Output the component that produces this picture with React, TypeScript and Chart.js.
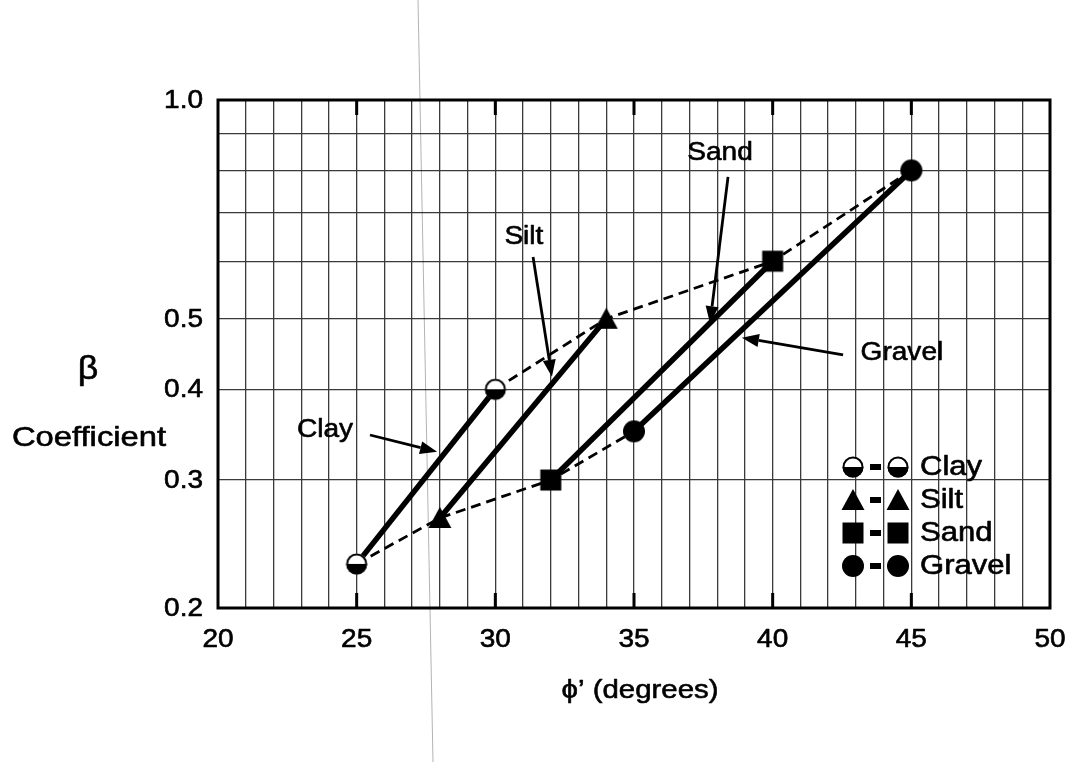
import React, { useEffect, useRef } from 'react';
import { Chart, registerables } from 'chart.js';

Chart.register(...registerables);

// ---- data ----
const soilNames = ['Clay', 'Silt', 'Sand', 'Gravel'];
const markerKinds = ['halfCircle', 'triangle', 'rect', 'circle'];
const phiLow = [25, 28, 32, 35];
const betaLow = [0.23, 0.266, 0.3, 0.35];
const phiHigh = [30, 34, 40, 45];
const betaHigh = [0.4, 0.5, 0.6, 0.8];

// ---- axes ----
const xMin = 20;
const xMax = 50;
const xStep = 1;
const xLabelValues = [20, 25, 30, 35, 40, 45, 50];
const majorTickValues = [25, 30, 35, 40, 45];
const yMin = 0.2;
const yMax = 1.0;
const yGridValues = [0.2, 0.3, 0.4, 0.5, 0.6, 0.7, 0.8, 0.9, 1.0];
const yLabelValues = [0.2, 0.3, 0.4, 0.5, 1.0];
const yLabelTexts = ['0.2', '0.3', '0.4', '0.5', '1.0'];
const xTitle = 'ϕ’ (degrees)';
const yTitleSymbol = 'β';
const yTitleText = 'Coefficient';

// ---- callouts (data coordinates) ----
const calloutText = ['Clay', 'Silt', 'Sand', 'Gravel'];
const calloutTextX = [23.86, 31.03, 38.1, 44.66];
const calloutTextY = [0.352, 0.648, 0.846, 0.449];
const calloutFromX = [25.48, 31.36, 38.39, 42.54];
const calloutFromY = [0.346, 0.608, 0.784, 0.446];
const calloutToX = [27.9, 32.04, 37.74, 38.89];
const calloutToY = [0.328, 0.416, 0.493, 0.471];

const FONT = '"Liberation Sans", Arial, Helvetica, sans-serif';

function stretchText(
  ctx: CanvasRenderingContext2D,
  text: string,
  x: number,
  y: number,
  size: number,
  align: CanvasTextAlign,
  sx: number
) {
  ctx.save();
  ctx.font = `${size}px ${FONT}`;
  ctx.fillStyle = '#000';
  ctx.strokeStyle = '#000';
  ctx.lineWidth = 0.6;
  ctx.lineJoin = 'round';
  ctx.textAlign = align;
  ctx.textBaseline = 'middle';
  ctx.translate(x, y);
  ctx.scale(sx, 1);
  ctx.fillText(text, 0, 0);
  ctx.strokeText(text, 0, 0);
  ctx.restore();
}

function drawMarker(ctx: CanvasRenderingContext2D, kind: string, x: number, y: number) {
  ctx.save();
  ctx.fillStyle = '#000';
  ctx.strokeStyle = '#000';
  if (kind === 'halfCircle') {
    const r = 10.5;
    ctx.beginPath();
    ctx.arc(x, y, r, 0, Math.PI * 2);
    ctx.fillStyle = '#fff';
    ctx.fill();
    ctx.beginPath();
    ctx.arc(x, y, r, 0, Math.PI);
    ctx.closePath();
    ctx.fillStyle = '#000';
    ctx.fill();
    ctx.beginPath();
    ctx.arc(x, y, r - 1, 0, Math.PI * 2);
    ctx.lineWidth = 2;
    ctx.stroke();
  } else if (kind === 'triangle') {
    const h = 20;
    const w = 23;
    ctx.beginPath();
    ctx.moveTo(x, y - h / 2 - 1);
    ctx.lineTo(x + w / 2, y + h / 2);
    ctx.lineTo(x - w / 2, y + h / 2);
    ctx.closePath();
    ctx.fill();
  } else if (kind === 'rect') {
    const s = 21;
    ctx.fillRect(x - s / 2, y - s / 2, s, s);
  } else {
    ctx.beginPath();
    ctx.arc(x, y, 11, 0, Math.PI * 2);
    ctx.fill();
  }
  ctx.restore();
}

function makeMarkerCanvas(kind: string): HTMLCanvasElement {
  const c = document.createElement('canvas');
  c.width = 26;
  c.height = 26;
  const cx = c.getContext('2d')!;
  drawMarker(cx, kind, 13, 13);
  return c;
}

function drawArrow(ctx: CanvasRenderingContext2D, x1: number, y1: number, x2: number, y2: number) {
  const ang = Math.atan2(y2 - y1, x2 - x1);
  const hl = 17;
  const hw = 6.5;
  const bx = x2 - hl * Math.cos(ang);
  const by = y2 - hl * Math.sin(ang);
  ctx.save();
  ctx.strokeStyle = '#000';
  ctx.fillStyle = '#000';
  ctx.lineWidth = 2.8;
  ctx.beginPath();
  ctx.moveTo(x1, y1);
  ctx.lineTo(bx, by);
  ctx.stroke();
  ctx.beginPath();
  ctx.moveTo(x2, y2);
  ctx.lineTo(bx + hw * Math.sin(ang), by - hw * Math.cos(ang));
  ctx.lineTo(bx - hw * Math.sin(ang), by + hw * Math.cos(ang));
  ctx.closePath();
  ctx.fill();
  ctx.restore();
}

const overlayPlugin = {
  id: 'overlay',
  afterDraw(chart: any) {
    const ctx: CanvasRenderingContext2D = chart.ctx;
    const { left, right, top, bottom } = chart.chartArea;
    const xs = chart.scales.x;
    const ys = chart.scales.y;
    ctx.save();

    // frame
    ctx.strokeStyle = '#000';
    ctx.lineWidth = 3;
    ctx.strokeRect(left, top, right - left, bottom - top);

    // inner major tick marks top & bottom
    majorTickValues.forEach((v) => {
      const px = xs.getPixelForValue(v);
      ctx.beginPath();
      ctx.moveTo(px, bottom);
      ctx.lineTo(px, bottom - 15);
      ctx.moveTo(px, top);
      ctx.lineTo(px, top + 15);
      ctx.stroke();
    });

    // tick labels
    xLabelValues.forEach((v) => {
      stretchText(ctx, String(v), xs.getPixelForValue(v), bottom + 32, 25, 'center', 1.12);
    });
    yLabelValues.forEach((v, i) => {
      stretchText(ctx, yLabelTexts[i], left - 15, ys.getPixelForValue(v) + 1, 25, 'right', 1.12);
    });

    // callouts
    calloutText.forEach((t, i) => {
      stretchText(ctx, t, xs.getPixelForValue(calloutTextX[i]), ys.getPixelForValue(calloutTextY[i]), 26, 'center', 1.08);
      drawArrow(
        ctx,
        xs.getPixelForValue(calloutFromX[i]),
        ys.getPixelForValue(calloutFromY[i]),
        xs.getPixelForValue(calloutToX[i]),
        ys.getPixelForValue(calloutToY[i])
      );
    });

    // legend (inside, lower right)
    const lx = right - 197;
    const ly = bottom - 141;
    const rowH = 33;
    soilNames.forEach((name, i) => {
      const y = ly + i * rowH;
      drawMarker(ctx, markerKinds[i], lx, y);
      ctx.fillStyle = '#000';
      ctx.fillRect(lx + 17, y - 3, 11, 6);
      drawMarker(ctx, markerKinds[i], lx + 45, y);
      stretchText(ctx, name, lx + 67, y + 1, 27, 'left', 1.15);
    });

    // axis titles
    stretchText(ctx, yTitleSymbol, 88, (top + bottom) / 2 + 16, 34, 'center', 1.05);
    stretchText(ctx, yTitleText, 89, (top + bottom) / 2 + 84, 28, 'center', 1.17);
    stretchText(ctx, xTitle, (left + right) / 2 + 6, bottom + 83, 26, 'center', 1.13);

    // faint scan line artifact
    ctx.strokeStyle = 'rgba(0,0,0,0.3)';
    ctx.lineWidth = 1;
    ctx.beginPath();
    ctx.moveTo(418, 0);
    ctx.lineTo(433, chart.height);
    ctx.stroke();

    ctx.restore();
  },
};

export default function App() {
  const ref = useRef<HTMLCanvasElement | null>(null);

  useEffect(() => {
    if (!ref.current) return;
    const solidSets = soilNames.map((name, i) => ({
      label: name,
      data: [
        { x: phiLow[i], y: betaLow[i] },
        { x: phiHigh[i], y: betaHigh[i] },
      ],
      borderColor: '#000',
      backgroundColor: '#000',
      borderWidth: 5.5,
      pointStyle: makeMarkerCanvas(markerKinds[i]) as any,
      pointRadius: 11,
      tension: 0,
    }));
    const dashedSets = [
      { label: 'low', xs: phiLow, ys: betaLow },
      { label: 'high', xs: phiHigh, ys: betaHigh },
    ].map((d) => ({
      label: d.label,
      data: d.xs.map((x, i) => ({ x, y: d.ys[i] })),
      borderColor: '#000',
      borderWidth: 2.8,
      borderDash: [10, 6],
      pointRadius: 0,
      tension: 0,
    }));

    const chart = new Chart(ref.current, {
      type: 'line',
      data: { datasets: [...solidSets, ...dashedSets] as any },
      options: {
        responsive: false,
        animation: false,
        devicePixelRatio: 1,
        layout: { padding: { top: 100, right: 26, left: 0, bottom: 0 } },
        plugins: { legend: { display: false }, tooltip: { enabled: false }, title: { display: false } },
        scales: {
          x: {
            type: 'linear',
            min: xMin,
            max: xMax,
            afterFit: (s: any) => {
              s.height = 154;
            },
            border: { display: false },
            grid: { color: '#3a3a3a', lineWidth: 1.3, drawTicks: false },
            ticks: { stepSize: xStep, autoSkip: false, display: false },
          },
          y: {
            type: 'logarithmic',
            min: yMin,
            max: yMax,
            afterFit: (s: any) => {
              s.width = 218;
            },
            afterBuildTicks: (s: any) => {
              s.ticks = yGridValues.map((v) => ({ value: v }));
            },
            border: { display: false },
            grid: { color: '#3a3a3a', lineWidth: 1.3, drawTicks: false },
            ticks: { autoSkip: false, display: false },
          },
        },
      } as any,
      plugins: [overlayPlugin],
    });
    return () => chart.destroy();
  }, []);

  return (
    <div style={{ position: 'absolute', left: 0, top: 0, width: 1076, height: 762, background: '#fff' }}>
      <canvas ref={ref} width={1076} height={762} style={{ display: 'block' }} />
    </div>
  );
}
